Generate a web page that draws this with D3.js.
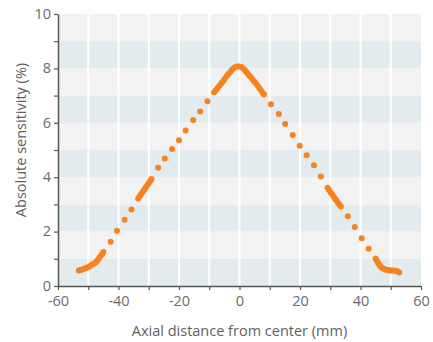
<!DOCTYPE html>
<html>
<head>
<meta charset="utf-8">
<script src="https://cdn.jsdelivr.net/npm/d3@7"></script>
<style>
  body { margin: 0; background: #fff; }
  svg { display: block; font-family: "Open Sans", sans-serif; }
</style>
</head>
<body>
<svg id="chart" width="433" height="342"></svg>
<script>
// axial distance (mm) and absolute sensitivity (%)
const xValues = [
  -53.1, -52.5, -52.0, -51.4, -50.8, -50.2, -49.6, -49.0, -48.5, -47.9, -47.4, -46.9, -46.4, -45.9, -45.4, -45.0,
  -42.6, -40.5, -38.0, -35.7,
  -33.5, -33.0, -32.5, -32.0, -31.5, -31.0, -30.5, -30.0, -29.5, -29.1,
  -26.9, -24.7, -22.3, -20.0, -17.8, -15.3, -13.0, -10.6,
  -8.4, -7.8, -7.2, -6.6, -6.0, -5.4, -4.8, -4.2, -3.6, -3.0, -2.4, -1.8, -1.2, -0.6, 0.0, 0.6,
  1.2, 1.8, 2.4, 3.0, 3.6, 4.2, 4.8, 5.4, 6.0, 6.6, 7.2, 7.7, 8.1,
  10.4, 13.0, 15.1, 17.6, 19.9, 22.2, 24.6, 26.9,
  29.1, 29.6, 30.1, 30.6, 31.1, 31.6, 32.1, 32.6, 33.1, 33.5,
  35.8, 38.1, 40.4, 42.7,
  45.0, 45.4, 45.8, 46.2, 46.6, 47.1, 47.6, 48.2, 48.8, 49.4, 50.0, 50.6, 51.2, 51.8, 52.3, 52.8
];
const sensitivity = [
  0.57, 0.59, 0.61, 0.63, 0.66, 0.69, 0.72, 0.76, 0.80, 0.84, 0.88, 0.95, 1.03, 1.10, 1.18, 1.25,
  1.63, 2.03, 2.44, 2.81,
  3.22, 3.30, 3.38, 3.46, 3.54, 3.62, 3.70, 3.78, 3.86, 3.93,
  4.35, 4.69, 5.04, 5.36, 5.72, 6.10, 6.42, 6.79,
  7.12, 7.20, 7.28, 7.36, 7.45, 7.54, 7.63, 7.72, 7.80, 7.88, 7.96, 8.02, 8.06, 8.07, 8.07, 8.05,
  8.00, 7.93, 7.85, 7.77, 7.69, 7.61, 7.53, 7.45, 7.36, 7.27, 7.18, 7.10, 7.04,
  6.68, 6.32, 5.96, 5.55, 5.16, 4.81, 4.44, 4.03,
  3.61, 3.53, 3.45, 3.37, 3.29, 3.21, 3.13, 3.05, 2.98, 2.92,
  2.56, 2.17, 1.76, 1.37,
  1.01, 0.93, 0.85, 0.78, 0.72, 0.67, 0.63, 0.61, 0.59, 0.58, 0.57, 0.57, 0.56, 0.55, 0.53, 0.50
];
const xTicks = [-60, -50, -40, -30, -20, -10, 0, 10, 20, 30, 40, 50, 60];
const yTicks = [0, 1, 2, 3, 4, 5, 6, 7, 8, 9, 10];
const bands = [0, 1, 2, 3, 4, 5, 6, 7, 8, 9];

const margin = { top: 14, right: 12, bottom: 56, left: 58 };
const width = 433 - margin.left - margin.right;
const height = 342 - margin.top - margin.bottom;

const svg = d3.select("#chart");
const g = svg.append("g")
    .attr("transform", `translate(${margin.left},${margin.top})`);

const x = d3.scaleLinear().domain([-60, 60]).range([0, width]);
const y = d3.scaleLinear().domain([0, 10]).range([height, 0]);

// striped background
g.selectAll("rect.band")
    .data(bands)
    .join("rect")
    .attr("class", "band")
    .attr("x", 0)
    .attr("width", width)
    .attr("y", d => y(d + 1))
    .attr("height", d => y(d) - y(d + 1))
    .attr("fill", d => d % 2 === 0 ? "#e3ebee" : "#f2f2f2");

// vertical white grid lines
g.selectAll("line.grid")
    .data(xTicks.slice(1, -1))
    .join("line")
    .attr("class", "grid")
    .attr("x1", d => x(d))
    .attr("x2", d => x(d))
    .attr("y1", 0)
    .attr("y2", height)
    .attr("stroke", "#fff")
    .attr("stroke-width", 2);

// axes
const xAxis = g.append("g")
    .attr("transform", `translate(0,${height})`)
    .call(d3.axisBottom(x).tickValues(xTicks).tickSize(4).tickSizeOuter(0)
        .tickFormat(d => d % 20 === 0 ? d : ""));
const yAxis = g.append("g")
    .call(d3.axisLeft(y).tickValues(yTicks).tickSize(4).tickSizeOuter(0)
        .tickFormat(d => d % 2 === 0 ? d : ""));

[xAxis, yAxis].forEach(a => {
    a.select(".domain").attr("stroke", "#555").attr("stroke-width", 1.5);
    a.selectAll(".tick line").attr("stroke", "#555").attr("stroke-width", 1.2);
    a.selectAll(".tick text")
        .attr("fill", "#6b6b6b")
        .style("font-family", "'Open Sans', sans-serif")
        .style("font-size", "14.5px");
});
xAxis.selectAll(".tick text").attr("y", 6).attr("dy", "0.95em");
yAxis.selectAll(".tick text").attr("x", -7).attr("dy", "0.3em");

// points
g.selectAll("circle.pt")
    .data(xValues.map((v, i) => ({ x: v, y: sensitivity[i] })))
    .join("circle")
    .attr("class", "pt")
    .attr("cx", d => x(d.x))
    .attr("cy", d => y(d.y))
    .attr("r", 3)
    .attr("fill", "#f6831f");

// axis titles
svg.append("text")
    .attr("x", margin.left + width / 2)
    .attr("y", 336)
    .attr("text-anchor", "middle")
    .attr("fill", "#5f5f5f")
    .style("font-size", "14.5px")
    .text("Axial distance from center (mm)");

svg.append("text")
    .attr("transform", `translate(26,140) rotate(-90)`)
    .attr("text-anchor", "middle")
    .attr("fill", "#5f5f5f")
    .style("font-size", "14.5px")
    .text("Absolute sensitivity (%)");
</script>
</body>
</html>
